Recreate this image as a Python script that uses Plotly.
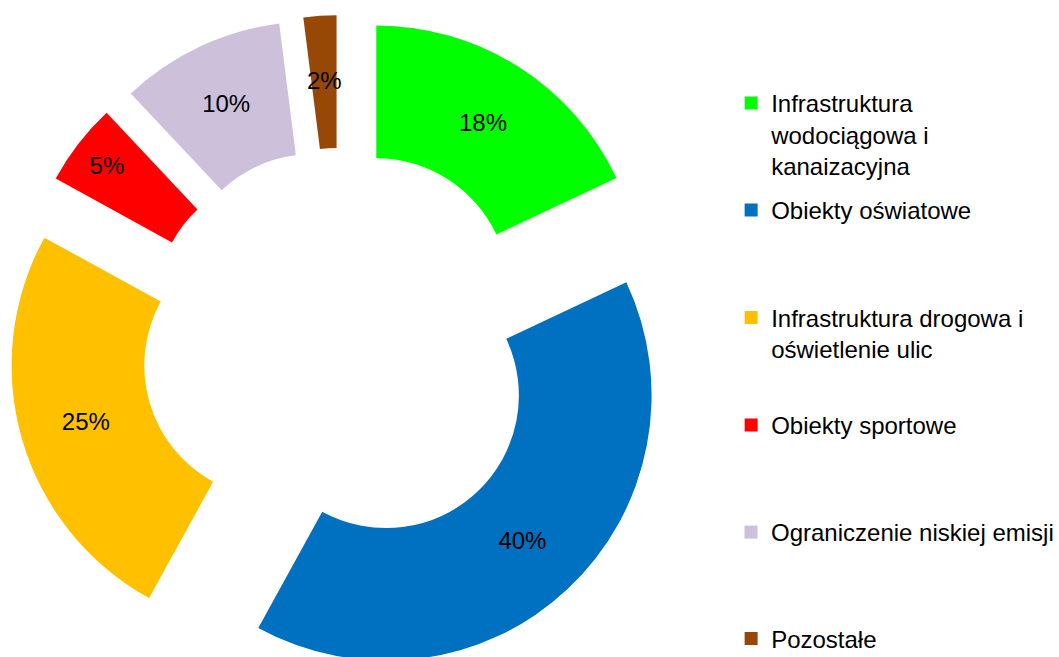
import math
import plotly.graph_objects as go

# ---- data ----
categories = [
    "Infrastruktura<br>wodociągowa i<br>kanaizacyjna",
    "Obiekty oświatowe",
    "Infrastruktura drogowa i<br>oświetlenie ulic",
    "Obiekty sportowe",
    "Ograniczenie niskiej emisji",
    "Pozostałe",
]
values = [18, 40, 25, 5, 10, 2]
colors = ["#00FF00", "#0070C0", "#FFC000", "#FF0000", "#CCC0DA", "#974806"]

W, H = 1059, 681
TOP = 13
PLOT_H = H - TOP
FONT = "Liberation Sans, Arial, sans-serif"
PULL = 0.25
HOLE = 0.5
DOM_X = [9 / W, 677 / W]
DOM_Y = [0, 1]

total = sum(values)
pct_text = [f"{round(v / total * 100)}%" for v in values]
SMALL = 0.03  # slices this thin get their label centred on the ring, like the original

# pie geometry derived from the domain (same rule plotly uses)
box_w = W * (DOM_X[1] - DOM_X[0])
box_h = PLOT_H * (DOM_Y[1] - DOM_Y[0])
R = min(box_w, box_h) / (2 + 2 * PULL)
cx = W * (DOM_X[0] + DOM_X[1]) / 2
cy = TOP + PLOT_H * (1 - (DOM_Y[0] + DOM_Y[1]) / 2)

fig = go.Figure()
fig.add_trace(go.Pie(
    labels=categories,
    values=values,
    text=[t if v / total >= SMALL else "" for t, v in zip(pct_text, values)],
    marker=dict(colors=colors, line=dict(width=0)),
    hole=HOLE,
    pull=PULL,
    sort=False,
    direction="clockwise",
    rotation=0,
    textinfo="text",
    textposition="inside",
    insidetextorientation="horizontal",
    textfont=dict(family=FONT, size=24, color="black"),
    domain=dict(x=DOM_X, y=DOM_Y),
    showlegend=False,
    hoverinfo="label+percent",
))

annotations = []
cum = 0
for v, t in zip(values, pct_text):
    mid = (cum + v / 2) / total * 2 * math.pi
    cum += v
    if v / total >= SMALL:
        continue
    rad = PULL * R + R * (1 + HOLE) / 2
    px = cx + rad * math.sin(mid)
    py = cy - rad * math.cos(mid)
    annotations.append(dict(
        x=px / W, y=1 - (py - TOP) / PLOT_H, xref="paper", yref="paper",
        text=t, showarrow=False, xanchor="center", yanchor="middle",
        font=dict(family=FONT, size=24, color="black"),
    ))

# legend entries, one legend per entry so they can be spaced like the original
first_line_centers = [103, 210, 317.5, 425, 532, 638.5]
layout_legends = {}
for i, (lab, col) in enumerate(zip(categories, colors)):
    key = "legend" if i == 0 else f"legend{i + 1}"
    fig.add_trace(go.Scatter(
        x=[None], y=[None], mode="markers",
        marker=dict(symbol="square", size=13, color=col),
        name=lab, legend=key, hoverinfo="skip",
    ))
    top_px = first_line_centers[i] - 22
    layout_legends[key] = dict(
        x=736 / W, xanchor="left",
        y=1 - (top_px - TOP) / PLOT_H, yanchor="top",
        font=dict(family=FONT, size=24, color="black"),
        valign="top", bgcolor="rgba(0,0,0,0)", borderwidth=0,
    )

fig.update_layout(
    width=W, height=H,
    margin=dict(l=0, r=0, t=TOP, b=0),
    paper_bgcolor="white", plot_bgcolor="white",
    xaxis=dict(visible=False), yaxis=dict(visible=False),
    uniformtext=dict(minsize=24, mode="show"),
    annotations=annotations,
    **layout_legends,
)

fig.write_html(
    "out.html",
    config={"displayModeBar": False},
    post_script="document.body.style.margin='0';document.body.style.overflow='hidden';",
)
